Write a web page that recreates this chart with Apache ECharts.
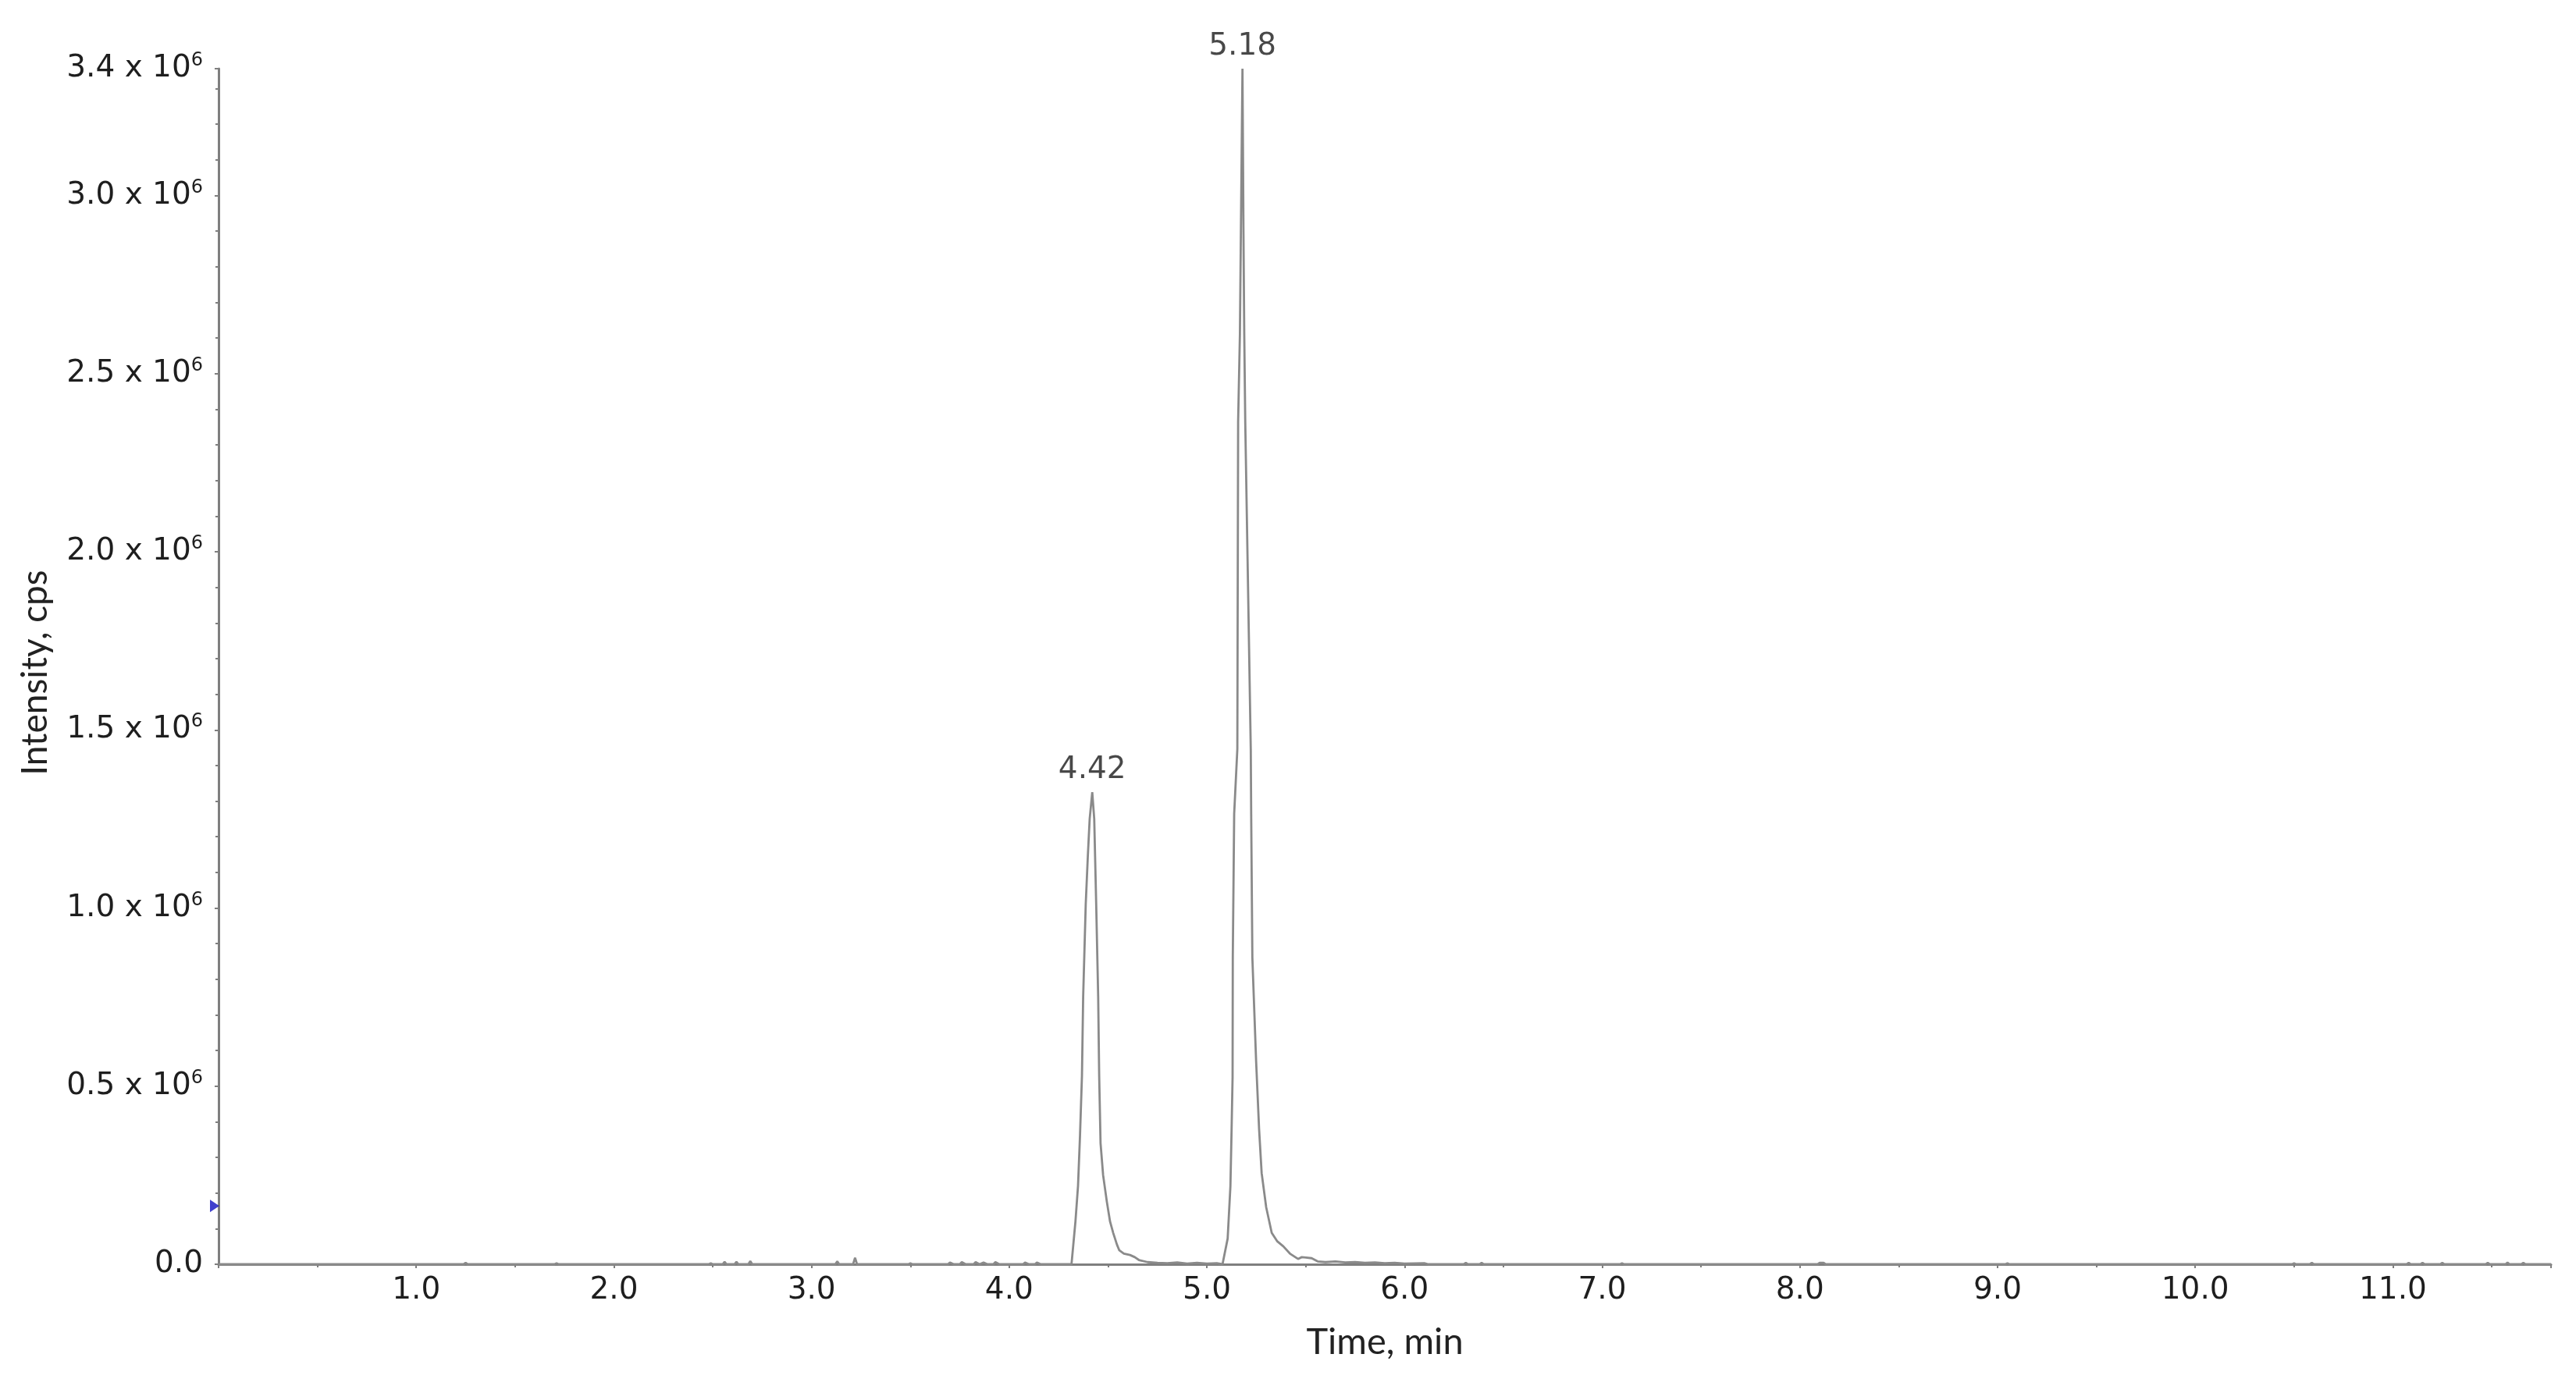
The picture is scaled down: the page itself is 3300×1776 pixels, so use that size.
<!DOCTYPE html>
<html>
<head>
<meta charset="utf-8">
<script src="https://cdn.jsdelivr.net/npm/echarts@6/dist/echarts.min.js"></script>
<style>
html,body{margin:0;padding:0;background:#fff;}
#chart{width:3300px;height:1776px;}
</style>
</head>
<body>
<div id="chart"></div>
<script>
// Chromatogram trace: retention time (min) and intensity (cps)
const times = [
  0.00, 1.24, 1.25, 1.26, 1.70, 1.71, 1.72,
  2.48, 2.49, 2.50, 2.55, 2.56, 2.57, 2.61, 2.62, 2.63, 2.68, 2.69, 2.70,
  3.12, 3.13, 3.14, 3.21, 3.22, 3.23, 3.49, 3.50, 3.51,
  3.69, 3.70, 3.72, 3.75, 3.76, 3.78, 3.82, 3.83, 3.85, 3.87, 3.89, 3.92, 3.93, 3.95,
  4.07, 4.08, 4.10, 4.13, 4.14, 4.16,
  4.315, 4.335, 4.348, 4.358, 4.368, 4.374, 4.387, 4.398, 4.407, 4.42,
  4.43, 4.44, 4.45, 4.455, 4.462, 4.475, 4.494, 4.51, 4.526, 4.545, 4.557, 4.58, 4.611, 4.635, 4.656,
  4.70, 4.75, 4.80, 4.85, 4.90, 4.95, 5.00, 5.05,
  5.079, 5.105, 5.119, 5.125, 5.130, 5.131, 5.138, 5.154, 5.158, 5.167, 5.172, 5.18,
  5.185, 5.189, 5.194, 5.222, 5.224, 5.230, 5.249, 5.264, 5.277, 5.30, 5.328, 5.355, 5.387, 5.42, 5.461,
  5.48, 5.50, 5.53, 5.56, 5.60, 5.65, 5.70, 5.75, 5.80, 5.85, 5.90, 5.95, 6.00, 6.10, 6.12,
  6.30, 6.31, 6.32, 6.38, 6.39, 6.40, 7.09, 7.10, 7.11, 8.09, 8.10, 8.12, 8.13, 9.04, 9.05, 9.06,
  10.49, 10.50, 10.51, 10.58, 10.59, 10.60,
  11.07, 11.08, 11.09, 11.14, 11.15, 11.16, 11.24, 11.25, 11.26,
  11.47, 11.48, 11.49, 11.57, 11.58, 11.59, 11.65, 11.66, 11.67, 11.80
];
const intensities = [
  0, 0, 4000, 0, 0, 3000, 0,
  0, 3000, 0, 0, 7000, 0, 0, 7000, 0, 0, 9000, 0,
  0, 8000, 0, 0, 18000, 0, 0, 3000, 0,
  0, 5000, 0, 0, 6000, 0, 0, 6000, 0, 5000, 0, 0, 6000, 0,
  0, 5000, 0, 0, 5000, 0,
  0, 120000, 220000, 360000, 530000, 750000, 1010000, 1150000, 1250000, 1325000,
  1250000, 1010000, 750000, 530000, 340000, 250000, 175000, 120000, 88000, 55000, 39000, 30000, 26000, 20000, 12000,
  6000, 4000, 3000, 5000, 2000, 4000, 2000, 3000,
  0, 72000, 219000, 380000, 526000, 861000, 1264000, 1446000, 2366000, 2610000, 2900000, 3356000,
  2900000, 2610000, 2366000, 1446000, 1264000, 861000, 570000, 380000, 256000, 160000, 88000, 65000, 50000, 30000, 15000,
  20000, 19000, 17000, 8000, 6000, 8000, 5000, 6000, 4000, 5000, 3000, 4000, 2000, 3000, 0,
  0, 4000, 0, 0, 4000, 0, 0, 3000, 0, 0, 4000, 4000, 0, 0, 3000, 0,
  0, 3000, 0, 0, 4000, 0,
  0, 4000, 0, 0, 4000, 0, 0, 4000, 0,
  0, 4000, 0, 0, 5000, 0, 0, 4000, 0, 0
];
// Peak annotations
const peakTimes = [4.42, 5.18];
const peakHeights = [1325000, 3356000];
const peakLabels = ['4.42', '5.18'];
// Marker on the intensity axis
const markerValue = [0, 164000];
// Axis text
const xTitle = 'Time, min';
const yTitle = 'Intensity, cps';

const TICK_FONT = 'DejaVu Sans';
const TITLE_FONT = 'Lato';

const chart = echarts.init(document.getElementById('chart'), null, {renderer: 'canvas'});
chart.setOption({
  animation: false,
  backgroundColor: '#ffffff',
  grid: {left: 280, right: 32, top: 88, bottom: 156, containLabel: false},
  xAxis: {
    type: 'value', min: 0, max: 11.8, interval: 1,
    name: xTitle, nameLocation: 'middle', nameGap: 76,
    nameTextStyle: {fontFamily: TITLE_FONT, fontSize: 47, color: '#222'},
    axisLine: {show: true, lineStyle: {color: '#7f7f7f', width: 3}},
    axisTick: {show: true, length: 5, lineStyle: {color: '#7f7f7f', width: 2}},
    minorTick: {show: true, splitNumber: 2, length: 4, lineStyle: {color: '#7f7f7f', width: 2}},
    splitLine: {show: false},
    axisLabel: {
      showMinLabel: false, showMaxLabel: false, margin: 14,
      fontFamily: TICK_FONT, fontSize: 39, color: '#1e1e1e',
      formatter: v => v.toFixed(1)
    }
  },
  yAxis: {
    type: 'value', min: 0, max: 3356000, interval: 500000,
    name: yTitle, nameLocation: 'middle', nameGap: 212, nameRotate: 90,
    nameTextStyle: {fontFamily: TITLE_FONT, fontSize: 46, color: '#222', padding: [0, 16, 0, 0]},
    axisLine: {show: true, lineStyle: {color: '#7f7f7f', width: 3}},
    axisTick: {show: true, length: 5, lineStyle: {color: '#7f7f7f', width: 2}},
    minorTick: {show: true, splitNumber: 5, length: 4, lineStyle: {color: '#7f7f7f', width: 2}},
    splitLine: {show: false},
    axisLabel: {
      showMinLabel: true, showMaxLabel: true, margin: 20,
      fontFamily: TICK_FONT, fontSize: 39, color: '#1e1e1e',
      formatter: v => v === 0 ? '0.0' : '{n|' + (v / 1e6).toFixed(1) + ' x 10}{s|6}',
      rich: {
        n: {fontFamily: TICK_FONT, fontSize: 39, color: '#1e1e1e', lineHeight: 44},
        s: {fontFamily: TICK_FONT, fontSize: 24, color: '#1e1e1e', verticalAlign: 'top', lineHeight: 24, padding: [0, 0, 14, 0]}
      }
    }
  },
  series: [
    {
      type: 'line',
      data: times.map((t, i) => [t, intensities[i]]),
      showSymbol: false,
      symbol: 'none',
      lineStyle: {color: '#8a8a8a', width: 2.8},
      clip: false,
      z: 3
    },
    {
      type: 'scatter',
      data: peakTimes.map((t, i) => ({value: [t, peakHeights[i]], name: peakLabels[i]})),
      symbolSize: 1,
      itemStyle: {color: 'rgba(0,0,0,0)'},
      label: {
        show: true, position: 'top', distance: 8,
        fontFamily: TICK_FONT, fontSize: 39, color: '#1a1a1a',
        formatter: p => p.name
      },
      clip: false,
      z: 4
    },
    {
      type: 'scatter',
      data: [markerValue],
      symbol: 'triangle',
      symbolSize: [16, 12],
      symbolRotate: -90,
      symbolOffset: [-5, 0],
      itemStyle: {color: '#1010c0'},
      clip: false,
      z: 5
    }
  ]
});
</script>
</body>
</html>
